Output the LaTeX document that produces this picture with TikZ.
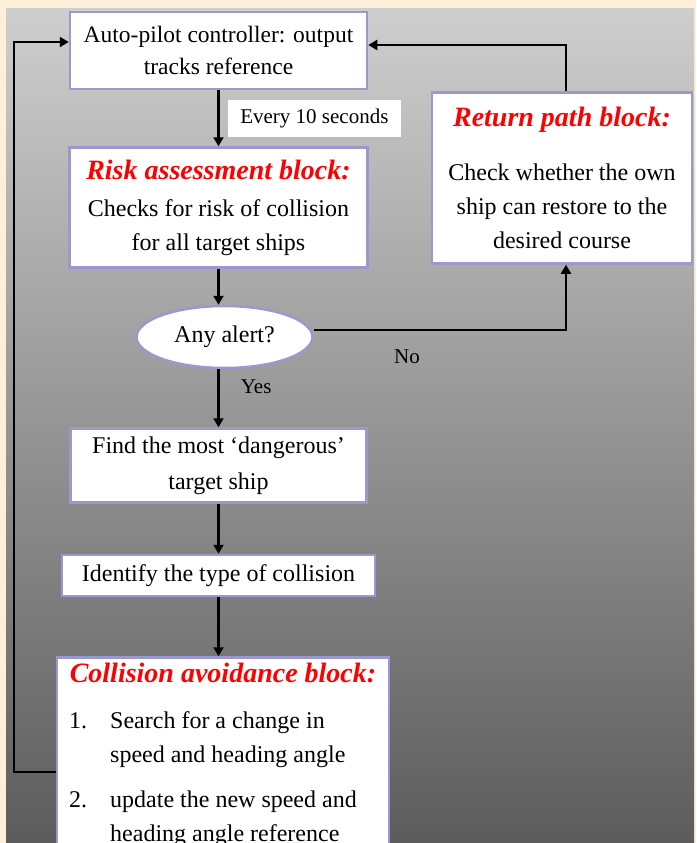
\documentclass[tikz,border=0pt]{standalone}
\usepackage{fontspec}
\setmainfont{Liberation Serif}
\usetikzlibrary{positioning,shapes.geometric,arrows.meta}

\definecolor{paper}{RGB}{252,240,218}
\definecolor{edgeblue}{RGB}{153,153,206}
\definecolor{skytop}{RGB}{206,206,206}
\definecolor{skybot}{RGB}{92,92,92}

% red bold italic title inside a block
\newcommand{\blockhead}[1]{{\color{red}\fontsize{28}{32}\selectfont\bfseries\itshape #1}}

\begin{document}
\begin{tikzpicture}[x=1pt, y=-1pt,
        block/.style={rectangle, draw=edgeblue, line width=2.5pt, fill=white, align=center, inner sep=0pt, font=\fontsize{24}{34}\selectfont},
        alertnode/.style={ellipse, draw=edgeblue, line width=2.5pt, fill=white, inner sep=0pt, minimum width=176pt, minimum height=62pt, font=\fontsize{24}{34}\selectfont},
        tag/.style={inner sep=0pt, font=\fontsize{21}{24}\selectfont},
        flow/.style={line width=2.8pt, -{Triangle[length=9pt, width=10pt]}}
        ]
        \useasboundingbox (0,0) rectangle (696,843);
        \clip (0,0) rectangle (696,843);
        % paper frame and grey backdrop
        \fill[paper] (0,0) rectangle (696,843);
        \shade[top color=skytop, bottom color=skybot] (6,9) rectangle (694,843);

        \node[block, minimum width=297pt, minimum height=77pt, font=\fontsize{23.5}{32}\selectfont]
                                   (b_0) at (218.5,50.5)          {Auto-pilot controller: output\\ tracks reference};
        \node[block, minimum width=298pt, minimum height=120pt]
                                   (b_1) [below=56pt of b_0]     {\blockhead{Risk assessment block:}\\[3pt] Checks for risk of collision\\ for all target ships};
        \node[alertnode]           (b_2) [below=36pt of b_1, xshift=6pt] {Any alert?};
        \node[block, minimum width=296pt, minimum height=74pt, font=\fontsize{24}{36}\selectfont]
                                   (b_3) [below=58pt of b_2, xshift=-6pt] {Find the most `dangerous'\\ target ship};
        \node[block, minimum width=313pt, minimum height=41pt]
                                   (b_4) [below=50pt of b_3]     {Identify the type of collision};
        \node[block, minimum width=332pt, inner ysep=6pt]
                                   (b_5) [below=59pt of b_4, xshift=4.5pt] {\blockhead{Collision avoidance block:}\\[20pt]
            \hspace*{-20pt}\begin{tabular}{@{}l@{\hspace{23pt}}l@{}}
            1. & Search for a change in\\
               & speed and heading angle\\[11pt]
            2. & update the new speed and\\
               & heading angle reference
            \end{tabular}};
        \node[block, minimum width=260pt, minimum height=171pt]
                                   (b_6) at (562,178)             {\blockhead{Return path block:}\\[20pt] Check whether the own\\ ship can restore to the\\ desired course};

        % corners of the two loops
        \coordinate (c_0) at (566,45);
        \coordinate (c_1) at (14,772);
        \coordinate (c_2) at (14,42);

        \path[flow]
        (b_0)           edge    node[tag, right=8pt, fill=white, minimum width=173pt, minimum height=37pt] (t_0) {Every 10 seconds} (b_1)
        (b_1.south)     edge    (b_1.south |- b_2.north)
        (b_3.north |- b_2.south) edge node[tag, right=21pt, pos=0.3] (t_1) {Yes} (b_3.north)
        (b_3)           edge    (b_4)
        (b_4.south)     edge    (b_4.south |- b_5.north);

        \draw[flow] ([yshift=7pt]b_2.east) -| (b_6.south -| c_0);
        \node[tag]                 (t_2) at (407,357)             {No};
        \draw[flow] (b_6.north -| c_0) |- (b_0.east |- c_0);
        \draw[flow] (b_5.west |- c_1) -| (c_2) -- (b_0.west |- c_2);
    \end{tikzpicture}
\end{document}
